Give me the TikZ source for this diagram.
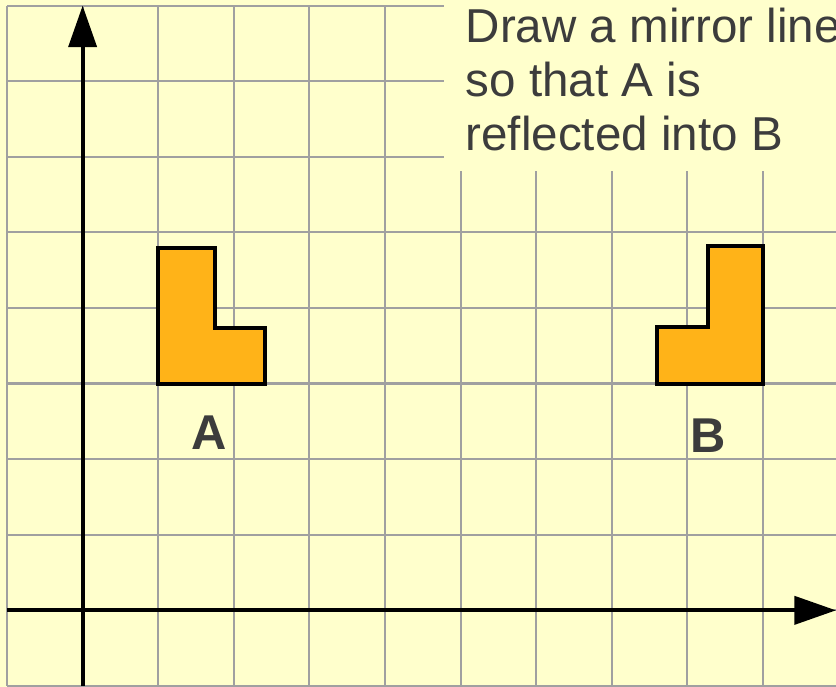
\documentclass[tikz,border=0pt]{standalone}
\usepackage{fontspec}
\setmainfont{Liberation Sans}
\usetikzlibrary{arrows.meta}
\definecolor{PaperYellow}{RGB}{255,255,204}
\definecolor{GridGrey}{RGB}{160,160,160}
\definecolor{ShapeOrange}{RGB}{255,179,24}
\definecolor{InkGrey}{RGB}{60,60,60}

\begin{document}
\begin{tikzpicture}[x=1cm,y=1cm,>={Triangle[length=0.55cm,width=0.37cm]},
    gridline/.style={GridGrey,line width=0.8pt},
    axis/.style={->,black,line width=1.5pt},
    lshape/.style={fill=ShapeOrange,draw=black,line width=1.5pt,line join=miter},
    shapelabel/.style={InkGrey,font=\fontsize{18.4}{20}\selectfont\bfseries}]
  \fill[PaperYellow] (-0.093,-0.013) rectangle (10.966,9.074);
  \useasboundingbox (-0.093,-0.013) rectangle (10.966,9.074);
  \foreach \x in {0,...,10}{
    \draw[gridline] (\x,0)--(\x,9);
  }
  \foreach \y in {0,...,9}{
    \draw[gridline] (0,\y)--(11,\y);
  }
  \fill[PaperYellow] (5.78,6.81) rectangle (11,9.2);
  \coordinate (ybot) at (1,0);
  \coordinate (ytop) at (1,9);
  \coordinate (xleft) at (0,1);
  \coordinate (xright) at (10.966,1);
  \draw[axis] (ybot)--(ytop);
  \draw[axis] (xleft)--(xright);
  \filldraw[lshape] (2,4)--(3.41,4)--(3.41,4.74)--(2.75,4.74)--(2.75,5.79)--(2,5.79)--cycle;
  \filldraw[lshape] (8.6,4)--(10,4)--(10,5.82)--(9.27,5.82)--(9.27,4.75)--(8.6,4.75)--cycle;
  \node[shapelabel] (labelA) at (2.68,3.35) {A};
  \node[shapelabel] (labelB) at (9.27,3.31) {B};
  \node[InkGrey,anchor=north west,inner sep=0pt,align=left,
        font=\fontsize{17.9}{20.3}\selectfont] (task) at (6.06,8.971)
        {Draw a mirror line\\so that A is\\reflected into B};
\end{tikzpicture}
\end{document}
